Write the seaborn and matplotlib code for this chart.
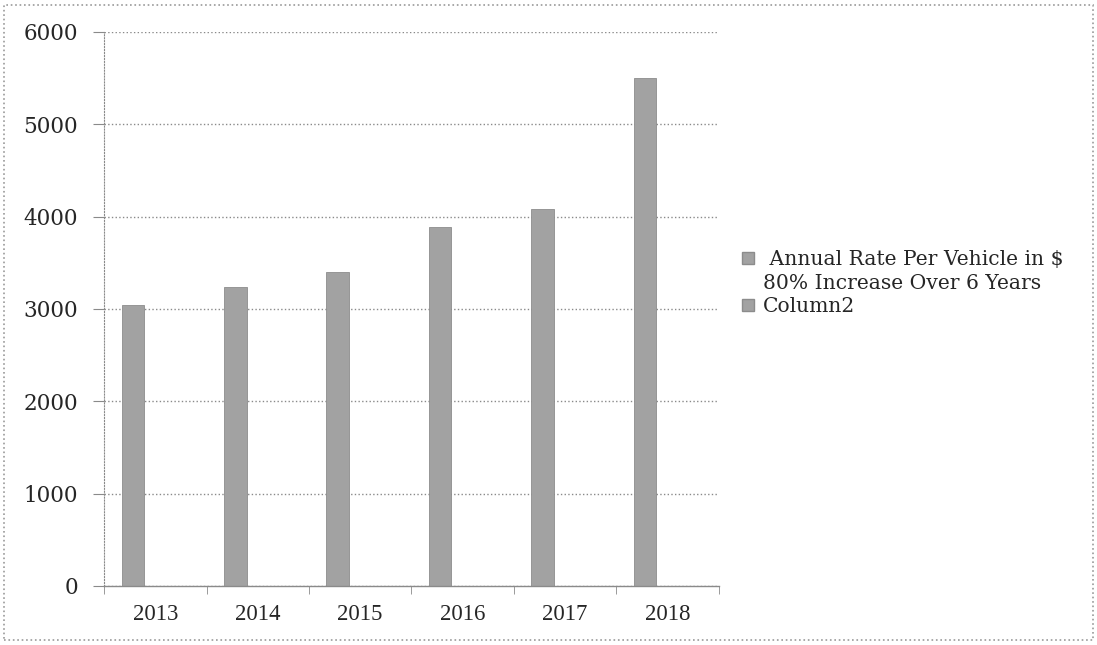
import pandas as pd
import matplotlib.pyplot as plt
import seaborn as sns
from matplotlib.patches import Patch, Rectangle

years = ["2013", "2014", "2015", "2016", "2017", "2018"]
annual_rate = [3040, 3235, 3395, 3885, 4085, 5500]
column2 = [0, 0, 0, 0, 0, 0]
column3 = [0, 0, 0, 0, 0, 0]

series_1 = "Annual Rate Per Vehicle in $"
series_1_note = "80% Increase Over 6 Years"
series_2 = "Column2"
series_3 = "Column3"

df = pd.DataFrame({
    "year": years * 3,
    "value": annual_rate + column2 + column3,
    "series": [series_1] * 6 + [series_2] * 6 + [series_3] * 6,
})

sns.set_style("white")
plt.rcParams["font.family"] = ["DejaVu Serif"]

BAR = "#a2a2a2"
GRID = "#8a8a8a"

fig = plt.figure(figsize=(10.97, 6.45), dpi=100)
ax = fig.add_axes([0.095, 0.0915, 0.56, 0.859])

sns.barplot(data=df, x="year", y="value", hue="series",
            hue_order=[series_1, series_2, series_3],
            palette=[BAR, BAR, BAR], width=0.66, saturation=1,
            edgecolor="#8c8c8c", linewidth=0.6, legend=False, ax=ax)

ax.set_ylim(0, 6000)
ax.set_xlim(-0.5, 5.5)
ax.set_yticks(range(0, 6001, 1000))
ax.set_xticks(range(len(years)))
ax.set_xticklabels(years, family="Liberation Serif", fontsize=16.5)
ax.set_xticks([i - 0.5 for i in range(len(years) + 1)], minor=True)
ax.set_xlabel("")
ax.set_ylabel("")

ax.yaxis.grid(True, linestyle=":", color=GRID, linewidth=1.0)
ax.set_axisbelow(True)
ax.tick_params(axis="y", length=8, color=GRID, labelsize=15.5, pad=11, left=True)
ax.tick_params(axis="x", which="major", length=0, pad=13)
ax.tick_params(axis="x", which="minor", length=6, color=GRID, bottom=True)

for side in ["top", "right"]:
    ax.spines[side].set_visible(False)
ax.spines["left"].set_color(GRID)
ax.spines["left"].set_linestyle(":")
ax.spines["bottom"].set_color(GRID)
ax.spines["bottom"].set_linewidth(1.0)

handles = [Patch(facecolor=BAR, edgecolor="#8c8c8c"),
           Patch(facecolor="none", edgecolor="none"),
           Patch(facecolor=BAR, edgecolor="#8c8c8c")]
fig.legend(handles, [" " + series_1, series_1_note, series_2],
           loc="center left", bbox_to_anchor=(0.66, 0.561), frameon=False,
           fontsize=14.6, handlelength=0.6, handleheight=0.6,
           handletextpad=0.4, labelspacing=0.22)

fig.patches.append(Rectangle((0.004, 0.008), 0.992, 0.984, fill=False,
                             transform=fig.transFigure, edgecolor="#9a9a9a",
                             linewidth=1.2, linestyle=":"))

plt.savefig("out.png", dpi=100)
plt.close()
